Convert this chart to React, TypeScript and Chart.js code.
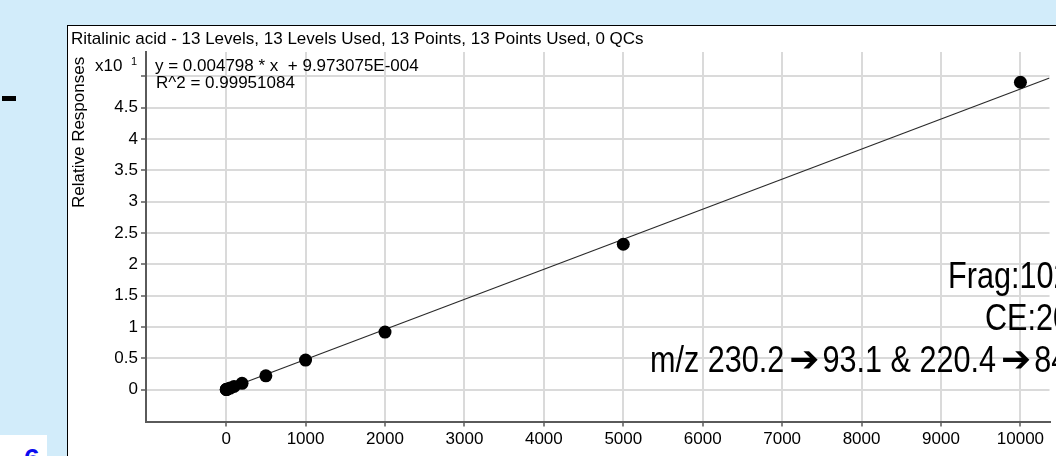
import React, { useEffect, useRef } from "react";
import { Chart, registerables } from "chart.js";

Chart.register(...registerables);

// ---- data (concentration vs relative response, response axis in units of x10^1) ----
const concentrations = [1, 2, 5, 10, 20, 50, 100, 200, 500, 1000, 2000, 5000, 10000];
const responses = [0.0006, 0.0011, 0.0025, 0.0049, 0.0098, 0.024, 0.049, 0.099, 0.22, 0.471, 0.918, 2.32, 4.907];

// fit line end points
const fitX = [0, 10366];
const fitY = [0.0001, 4.974];

// ticks
const xTickValues = [0, 1000, 2000, 3000, 4000, 5000, 6000, 7000, 8000, 9000, 10000];
const xTickLabels = ["0", "1000", "2000", "3000", "4000", "5000", "6000", "7000", "8000", "9000", "10000"];
const yTickValues = [0, 0.5, 1, 1.5, 2, 2.5, 3, 3.5, 4, 4.5, 5];
const yTickLabels = ["0", "0.5", "1", "1.5", "2", "2.5", "3", "3.5", "4", "4.5", ""];

// texts
const titleText = "Ritalinic acid - 13 Levels, 13 Levels Used, 13 Points, 13 Points Used, 0 QCs";
const yAxisTitle = "Relative Responses";
const exponentBase = "x10";
const exponentPower = "1";
const equationText = "y = 0.004798 * x  + 9.973075E-004";
const r2Text = "R^2 = 0.99951084";
const ARROW = "\u2794";
const annotationLines = ["Frag:102", "CE:20", `m/z 230.2${ARROW}93.1 & 220.4${ARROW}84`];

const FONT = "Arial, 'Liberation Sans', sans-serif";

const textPlugin = {
  id: "calTexts",
  afterDraw(chart: any) {
    const ctx = chart.ctx as CanvasRenderingContext2D;
    ctx.save();
    ctx.fillStyle = "#000";
    ctx.textBaseline = "alphabetic";
    ctx.textAlign = "left";

    ctx.font = `17px ${FONT}`;
    ctx.fillText(titleText, 3, 17.5);

    ctx.save();
    ctx.translate(16, 182);
    ctx.rotate(-Math.PI / 2);
    ctx.font = `17px ${FONT}`;
    ctx.fillText(yAxisTitle, 0, 0);
    ctx.restore();

    ctx.font = `17px ${FONT}`;
    ctx.fillText(exponentBase, 27, 45);
    ctx.font = `11px ${FONT}`;
    ctx.fillText(exponentPower, 63, 39);

    ctx.font = `17px ${FONT}`;
    ctx.fillText(equationText, 87, 45);
    ctx.fillText(r2Text, 88, 61.5);

    const pos = [
      [880, 262.3],
      [917, 304],
      [582, 346],
    ];
    const sx = 0.85;
    annotationLines.forEach((t, i) => {
      const parts = t.split(ARROW);
      let cx = pos[i][0];
      const y = pos[i][1];
      parts.forEach((p, k) => {
        if (k > 0) {
          cx += 5;
          ctx.font = `36px 'DejaVu Sans', sans-serif`;
          ctx.fillText(ARROW, cx, y - 1);
          cx += ctx.measureText(ARROW).width + 3;
        }
        ctx.font = `36px ${FONT}`;
        ctx.save();
        ctx.translate(cx, y);
        ctx.scale(sx, 1);
        ctx.fillText(p, 0, 0);
        ctx.restore();
        cx += ctx.measureText(p).width * sx;
      });
    });
    ctx.restore();
  },
};

export default function App() {
  const ref = useRef<HTMLCanvasElement>(null);

  useEffect(() => {
    const canvas = ref.current!;
    const chart = new Chart(canvas, {
      type: "scatter",
      data: {
        datasets: [
          {
            data: concentrations.map((x, i) => ({ x, y: responses[i] })),
            pointRadius: 6.5,
            pointBackgroundColor: "#000",
            pointBorderWidth: 0,
            showLine: false,
            order: 0,
          },
          {
            data: fitX.map((x, i) => ({ x, y: fitY[i] })),
            showLine: true,
            borderColor: "#2a2a2a",
            borderWidth: 1.2,
            pointRadius: 0,
            order: 1,
          },
        ],
      },
      options: {
        responsive: false,
        animation: false,
        events: [],
        layout: { padding: { top: 26, left: 0, right: 0, bottom: 0 } },
        plugins: {
          legend: { display: false },
          tooltip: { enabled: false },
          title: { display: false },
        },
        scales: {
          x: {
            type: "linear",
            position: "bottom",
            min: -1009,
            max: 10366,
            afterBuildTicks: (s: any) => {
              s.ticks = xTickValues.map((v) => ({ value: v }));
            },
            afterFit: (s: any) => {
              s.height = 34.5;
            },
            ticks: {
              callback: (_v: any, i: number) => xTickLabels[i],
              font: { family: FONT, size: 17 },
              color: "#000",
              maxRotation: 0,
              autoSkip: false,
              padding: 3,
            },
            grid: {
              color: "#dadada",
              lineWidth: 2,
              tickColor: "#5a5a5a",
              tickLength: 5,
              tickWidth: 1.5,
            },
            border: { color: "#5a5a5a", width: 2 },
          },
          y: {
            type: "linear",
            min: -0.51,
            max: 5.39,
            afterBuildTicks: (s: any) => {
              s.ticks = yTickValues.map((v) => ({ value: v }));
            },
            afterFit: (s: any) => {
              s.width = 78;
            },
            ticks: {
              callback: (_v: any, i: number) => yTickLabels[i],
              font: { family: FONT, size: 17 },
              color: "#000",
              autoSkip: false,
              padding: 3,
            },
            grid: {
              color: "#dadada",
              lineWidth: 2,
              tickColor: "#5a5a5a",
              tickLength: 5,
              tickWidth: 1.5,
            },
            border: { color: "#5a5a5a", width: 2 },
          },
        },
      } as any,
      plugins: [textPlugin],
    });
    return () => chart.destroy();
  }, []);

  return (
    <div
      style={{
        position: "fixed",
        left: 0,
        top: 0,
        width: 1056,
        height: 456,
        background: "#d2ecfa",
        overflow: "hidden",
      }}
    >
      <div style={{ position: "absolute", left: 2, top: 96, width: 14, height: 5, background: "#000" }} />
      <div
        style={{
          position: "absolute",
          left: 0,
          top: 435,
          width: 47,
          height: 21,
          background: "#fff",
          overflow: "hidden",
        }}
      >
        <div
          style={{
            position: "absolute",
            left: 24,
            top: 10,
            fontFamily: FONT,
            fontWeight: "bold",
            fontSize: 28,
            lineHeight: "28px",
            color: "#0a0af0",
          }}
        >
          6
        </div>
      </div>
      <div
        style={{
          position: "absolute",
          left: 67,
          top: 25,
          width: 1000,
          height: 440,
          background: "#fff",
          borderLeft: "1px solid #000",
          borderTop: "1px solid #000",
        }}
      />
      <canvas
        ref={ref}
        width={988}
        height={430}
        style={{ position: "absolute", left: 68, top: 26, width: 988, height: 430 }}
      />
    </div>
  );
}
